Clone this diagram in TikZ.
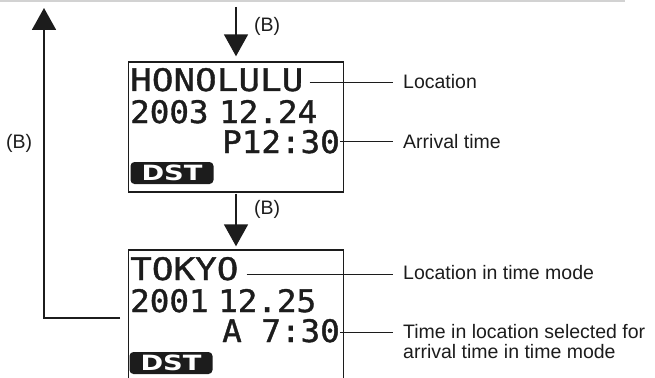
\documentclass[tikz,border=0pt]{standalone}
\usepackage{fontspec}
\setmainfont{Liberation Sans}
\newfontfamily\lcdwidefont[FakeStretch=1.16,FakeBold=1.2]{DejaVu Sans Mono}
\newfontfamily\lcddigitfont[FakeStretch=1.05,FakeBold=1.2]{DejaVu Sans Mono}
\newfontfamily\dstfont[FakeStretch=1.3]{DejaVu Sans Bold}
\usepackage{tikz}
\usetikzlibrary{arrows.meta,positioning,calc}
\definecolor{Ink}{HTML}{1C1C1C}
\definecolor{Rule}{HTML}{D2D2D2}
\tikzset{
  lcdframe/.style={draw=Ink,line width=1.4pt,inner sep=0pt},
  lcdwide/.style={inner sep=0pt,anchor=base west,text=Ink,font=\lcdwidefont\fontsize{31}{31}\selectfont},
  lcddigit/.style={inner sep=0pt,anchor=base west,text=Ink,font=\lcddigitfont\fontsize{31}{31}\selectfont},
  dstbadge/.style={fill=Ink,rounded corners=4pt,minimum width=83pt,minimum height=22pt,inner sep=0pt,text=white,font=\dstfont\fontsize{21}{21}\selectfont},
  flowarrow/.style={-{Triangle[length=22pt,width=24pt]},line width=1.8pt,draw=Ink},
  leader/.style={draw=Ink,line width=0.9pt},
  blabel/.style={inner sep=0pt,text=Ink,font=\fontsize{19.5}{20}\selectfont},
  note/.style={inner sep=0pt,text=Ink,font=\fontsize{19.5}{20}\selectfont}
}
\begin{document}
\begin{tikzpicture}[x=1pt,y=-1pt]
  \useasboundingbox (0,0) rectangle (655,377);
  \clip (0,0) rectangle (655,377);
  \draw[Rule,line width=2pt] (0,1) -- (625,1);
  % the two displays
  \node[lcdframe,minimum width=215pt,minimum height=130pt] (disp1) at (236,127) {};
  \node[lcdframe,minimum width=215pt,minimum height=160pt] (disp2) at (236,330) {};
  \node[lcdwide] (honolulu) at (130,91) {HONOLULU};
  \node[lcddigit] (date1) at (130,123) {2003};
  \node[lcddigit] (day1) at (219,123) {12.24};
  \node[lcddigit,anchor=base east] (time1) at (340,153) {P12:30};
  \node[dstbadge] (dst1) at (172,173) {DST};
  \node[lcdwide] (tokyo) at (130,280) {TOKYO};
  \node[lcddigit] (date2) at (130,312) {2001};
  \node[lcddigit] (day2) at (218,312) {12.25};
  \node[lcddigit,anchor=base east] (time2) at (340,342) {A 7:30};
  \node[dstbadge] (dst2) at (171,363) {DST};
  % labels
  \node[note,anchor=base west] (lblloc) at (403,89) {Location};
  \node[note,anchor=base west] (lblarr) at (403,148) {Arrival time};
  \node[note,anchor=base west] (lbltz) at (403,279) {Location in time mode};
  \node[note,anchor=north west,align=left] (lblsel) at (403,324) {Time in location selected for\\arrival time in time mode};
  \node[blabel,anchor=base west] (b1) at (254,32) {(B)};
  \node[blabel,anchor=base west] (b2) at (254,214) {(B)};
  \node[blabel,anchor=base west] (b3) at (6,148) {(B)};
  % arrows
  \coordinate (entry) at (disp1.north |- 0,7);
  \coordinate (backfoot) at (120,318);
  \coordinate (backtop) at (44,8);
  \draw[flowarrow,shorten >=5pt] (entry) -- (disp1.north);
  \draw[flowarrow,shorten <=1pt,shorten >=3pt] (disp1.south) -- (disp2.north);
  \draw[flowarrow] (backfoot) -| (backtop);
  % leaders
  \draw[leader,shorten <=6pt,shorten >=10pt] ([yshift=-2.5pt]honolulu.east) -- ([yshift=-2.5pt]honolulu.east -| lblloc.west);
  \draw[leader,shorten >=10pt] (time1.east) -- (time1.east -| lblarr.west);
  \draw[leader,shorten <=8pt,shorten >=10pt] ([yshift=-5.5pt]tokyo.east) -- ([yshift=-5.5pt]tokyo.east -| lbltz.west);
  \draw[leader,shorten >=10pt] ([yshift=-1.5pt]time2.east) -- ([yshift=-1.5pt]time2.east -| lblsel.west);
\end{tikzpicture}
\end{document}
